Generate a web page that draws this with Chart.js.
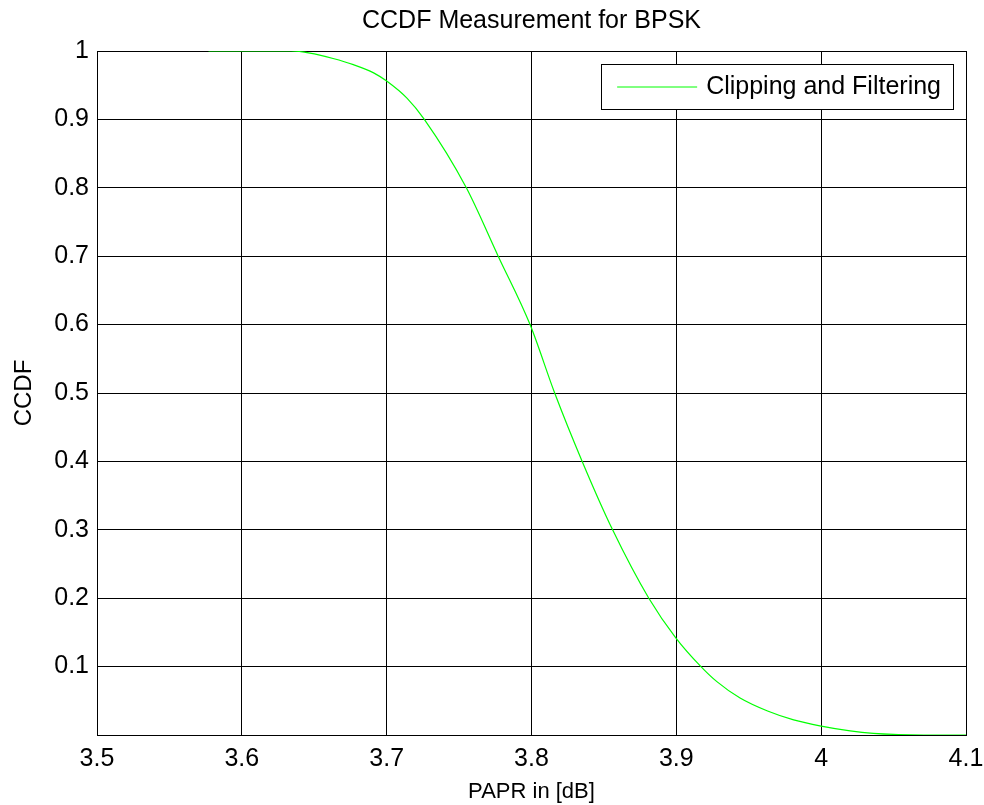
<!DOCTYPE html>
<html>
<head>
<meta charset="utf-8">
<title>CCDF Measurement for BPSK</title>
<script src="https://cdn.jsdelivr.net/npm/chart.js@4.4.1/dist/chart.umd.min.js"></script>
<style>
  html, body { margin: 0; padding: 0; background: #fff; }
  #wrap { width: 984px; height: 805px; }
</style>
</head>
<body>
<div id="wrap"><canvas id="ccdfChart"></canvas></div>
<script>
// values
const paprDb = [3.577, 3.634, 3.647, 3.663, 3.677, 3.691, 3.700, 3.714, 3.726, 3.755,
                3.777, 3.799, 3.816, 3.835, 3.856, 3.881, 3.900, 3.917, 3.928, 3.944,
                3.963, 3.981, 4.000, 4.020, 4.036, 4.071, 4.100];
const ccdf   = [1.000, 1.000, 0.997, 0.989, 0.980, 0.968, 0.956, 0.931, 0.900, 0.800,
                0.700, 0.600, 0.500, 0.400, 0.300, 0.200, 0.141, 0.100, 0.078, 0.054,
                0.035, 0.022, 0.013, 0.006, 0.0025, 0.000, 0.000];
const xTicks = [3.5, 3.6, 3.7, 3.8, 3.9, 4.0, 4.1];
const yTicks = [0.1, 0.2, 0.3, 0.4, 0.5, 0.6, 0.7, 0.8, 0.9, 1];
const seriesLabel = 'Clipping and Filtering';

const FONT = "'Liberation Sans', Arial, Helvetica, sans-serif";
const GREEN = '#00ff00';

// MATLAB-style legend box inside the top right corner of the axes
const boxLegend = {
  id: 'boxLegend',
  afterDatasetsDraw(chart) {
    const { ctx, chartArea } = chart;
    ctx.save();
    ctx.font = `25px ${FONT}`;
    const textW = ctx.measureText(seriesLabel).width;
    const right = chartArea.right - 13;
    const top = chartArea.top + 13;
    const h = 45;
    const left = right - (16 + 80 + 9 + textW + 12);
    ctx.fillStyle = '#fff';
    ctx.fillRect(left, top, right - left, h);
    ctx.strokeStyle = '#000';
    ctx.lineWidth = 1;
    ctx.strokeRect(Math.round(left) + 0.5, top + 0.5, Math.round(right - left), h);
    const midY = top + h / 2;
    ctx.strokeStyle = GREEN;
    ctx.beginPath();
    ctx.moveTo(left + 16, midY + 0.5);
    ctx.lineTo(left + 96, midY + 0.5);
    ctx.stroke();
    ctx.fillStyle = '#000';
    ctx.textBaseline = 'middle';
    ctx.fillText(seriesLabel, left + 105, midY + 1);
    ctx.restore();
  }
};

new Chart(document.getElementById('ccdfChart'), {
  type: 'line',
  data: {
    datasets: [{
      label: seriesLabel,
      data: paprDb.map((x, i) => ({ x, y: ccdf[i] })),
      borderColor: GREEN,
      borderWidth: 1.2,
      pointRadius: 0,
      cubicInterpolationMode: 'monotone',
      fill: false
    }]
  },
  options: {
    responsive: true,
    maintainAspectRatio: false,
    animation: false,
    layout: { padding: { top: 0, right: 18, bottom: 0, left: 0 } },
    plugins: {
      legend: { display: false },
      tooltip: { enabled: false },
      title: {
        display: true,
        fullSize: false,
        text: 'CCDF Measurement for BPSK',
        color: '#000',
        font: { family: FONT, size: 25, weight: 'normal' },
        padding: { top: 6, bottom: 15 }
      }
    },
    scales: {
      x: {
        type: 'linear',
        min: 3.5,
        max: 4.1,
        afterFit: s => { s.height = 70; s.paddingLeft = 0; s.paddingRight = 0; },
        afterBuildTicks: s => { s.ticks = xTicks.map(v => ({ value: v })); },
        ticks: {
          color: '#000',
          padding: 9,
          maxRotation: 0,
          font: { family: FONT, size: 25 },
          callback: v => String(Math.round(v * 10) / 10)
        },
        grid: { color: '#000', lineWidth: 1, drawTicks: false },
        border: { color: '#000', width: 1 },
        title: {
          display: true,
          text: 'PAPR in [dB]',
          color: '#000',
          font: { family: FONT, size: 22 },
          padding: { top: 0, bottom: 0 }
        }
      },
      y: {
        min: 0,
        max: 1,
        afterFit: s => { s.width = 97; s.paddingTop = 0; s.paddingBottom = 0; },
        afterBuildTicks: s => { s.ticks = [{ value: 0 }].concat(yTicks.map(v => ({ value: v }))); },
        ticks: {
          color: '#000',
          padding: 8,
          font: { family: FONT, size: 25 },
          callback: v => v === 0 ? '' : String(Math.round(v * 10) / 10)
        },
        grid: { color: '#000', lineWidth: 1, drawTicks: false },
        border: { color: '#000', width: 1 },
        title: {
          display: true,
          text: 'CCDF',
          color: '#000',
          font: { family: FONT, size: 24 },
          padding: { top: 10, bottom: 0 }
        }
      }
    }
  },
  plugins: [boxLegend]
});
</script>
</body>
</html>
